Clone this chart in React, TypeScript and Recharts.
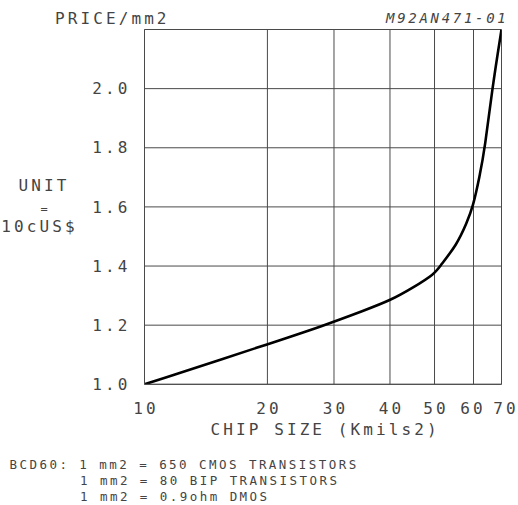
import React from 'react';
import { LineChart, Line, XAxis, YAxis, CartesianGrid } from 'recharts';

// ---- data ----
const chipSizeTicks = [10, 20, 30, 40, 50, 60, 70];
const priceTicks = [1.0, 1.2, 1.4, 1.6, 1.8, 2.0, 2.2];
const chipSize = [10, 20, 28.4, 35.05, 40, 45, 50, 51.3, 55.5, 58.1, 59.85, 62.0, 63.9, 66.5, 70];
const pricePerMm2 = [1.0, 1.135, 1.2, 1.25, 1.283, 1.328, 1.373, 1.4, 1.472, 1.545, 1.6, 1.7, 1.8, 2.0, 2.2];
const footnotes = [
  'BCD60: 1 mm2 = 650 CMOS TRANSISTORS',
  '1 mm2 = 80 BIP TRANSISTORS',
  '1 mm2 = 0.9ohm DMOS',
];

// ---- axis layout: the original hand-drawn grid spacing (fraction of plot width) ----
const AXIS_STOPS = [0, 0.3443, 0.5308, 0.6876, 0.8124, 0.9216, 1];
// small horizontal nudges of the x tick labels, as in the original drawing
const X_LABEL_NUDGE = [0, 0, 0, 0, 0, -2, 3];

const warp = (v: number) => {
  for (let i = 0; i < chipSizeTicks.length - 1; i++) {
    const a = chipSizeTicks[i];
    const b = chipSizeTicks[i + 1];
    if (v <= b || i === chipSizeTicks.length - 2) {
      const t = Math.log(v / a) / Math.log(b / a);
      return AXIS_STOPS[i] + t * (AXIS_STOPS[i + 1] - AXIS_STOPS[i]);
    }
  }
  return 1;
};

const data = chipSize.map((s, i) => ({ size: s, price: pricePerMm2[i] }));
const warpedTicks = chipSizeTicks.map(warp);
const nearestIndex = (w: number) => {
  let best = 0;
  warpedTicks.forEach((t, i) => {
    if (Math.abs(t - w) < Math.abs(warpedTicks[best] - w)) best = i;
  });
  return best;
};

const FONT = '"DejaVu Sans Mono", "Liberation Mono", monospace';
const TEXT = '#444';
const GRID = '#4a4a4a';

const XTick = (props: any) => {
  const { x, y, payload } = props;
  const i = nearestIndex(payload.value);
  return (
    <text
      x={x + 1.5 + X_LABEL_NUDGE[i]}
      y={y}
      dy={11.8}
      textAnchor="middle"
      fontFamily={FONT}
      fontSize={16}
      letterSpacing={3.1}
      fill={TEXT}
    >
      {String(chipSizeTicks[i])}
    </text>
  );
};

export default function App() {
  const tickStyle = { fontFamily: FONT, fontSize: 16, letterSpacing: 3.1, fill: TEXT };
  return (
    <div style={{ position: 'absolute', left: 0, top: 0, width: 518, height: 505, background: '#fff' }}>
      <LineChart
        width={518}
        height={505}
        data={data}
        margin={{ top: 29.5, right: 16.5, bottom: 90.7, left: 0 }}
      >
        <CartesianGrid stroke={GRID} strokeWidth={1} />
        <XAxis
          type="number"
          dataKey={(d: any) => warp(d.size)}
          domain={[0, 1]}
          ticks={warpedTicks}
          tickLine={false}
          tickSize={0}
          tickMargin={18}
          axisLine={{ stroke: GRID }}
          height={30}
          tick={<XTick />}
          interval={0}
          allowDataOverflow
        />
        <YAxis
          type="number"
          dataKey="price"
          domain={[1, 2.2]}
          ticks={priceTicks}
          tickFormatter={(v: number) => (v > 2.1 ? '' : v.toFixed(1))}
          tickLine={false}
          tickSize={0}
          tickMargin={14}
          axisLine={{ stroke: GRID }}
          width={144.5}
          tick={tickStyle}
          interval={0}
          allowDataOverflow
        />
        <Line
          type="basis"
          dataKey="price"
          stroke="#000"
          strokeWidth={2.6}
          dot={false}
          isAnimationActive={false}
        />
      </LineChart>
      <svg
        width={518}
        height={505}
        style={{ position: 'absolute', left: 0, top: 0, pointerEvents: 'none' }}
      >
        <g fontFamily={FONT} fill={TEXT}>
          <text x={55} y={24} fontSize={16} letterSpacing={3.1}>PRICE/mm2</text>
          <text x={386} y={22.7} fontSize={14} fontStyle="italic" letterSpacing={2.7}>M92AN471-01</text>
          <text x={44} y={191} fontSize={16} letterSpacing={3.1} textAnchor="middle">UNIT</text>
          <text x={44} y={213} fontSize={12} textAnchor="middle">=</text>
          <text x={39.5} y={232} fontSize={16} letterSpacing={3.1} textAnchor="middle">10cUS$</text>
          <text x={210.5} y={435} fontSize={16} letterSpacing={3.1}>CHIP SIZE (Kmils2)</text>
          <text x={9.5} y={469} fontSize={12.5} letterSpacing={2.45}>{footnotes[0]}</text>
          <text x={80} y={485} fontSize={12.5} letterSpacing={2.45}>{footnotes[1]}</text>
          <text x={80} y={501} fontSize={12.5} letterSpacing={2.45}>{footnotes[2]}</text>
        </g>
      </svg>
    </div>
  );
}
